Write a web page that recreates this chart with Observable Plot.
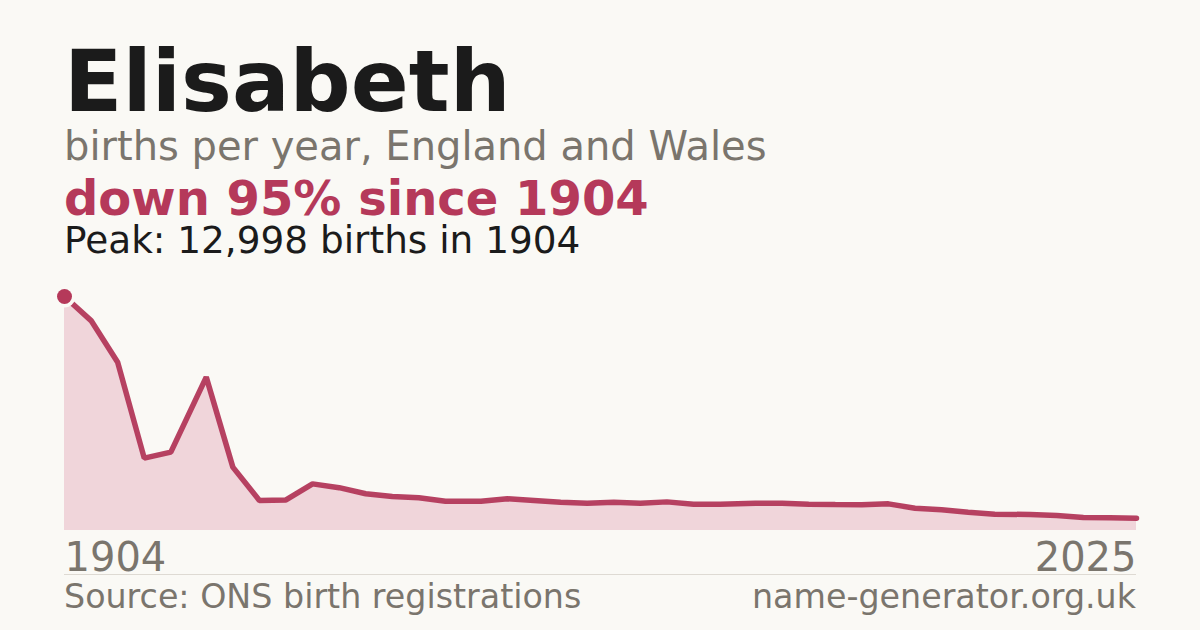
<!DOCTYPE html>
<html>
<head>
<meta charset="utf-8">
<script src="https://cdn.jsdelivr.net/npm/d3@7"></script>
<script src="https://cdn.jsdelivr.net/npm/@observablehq/plot@0.6"></script>
<style>
  html, body { margin: 0; padding: 0; background: #faf9f5; }
  body { width: 1200px; height: 630px; position: relative; overflow: hidden; font-family: "DejaVu Sans", sans-serif; }
  .t { position: absolute; white-space: nowrap; line-height: 0.9; }
  #chart { position: absolute; left: 0; top: 280px; }
  #rule { position: absolute; left: 64px; top: 574px; width: 1072px; height: 1px; background: #dedad3; }
</style>
</head>
<body>
<div id="chart"></div>
<div id="rule"></div>
<script>
const nameLabel = "Elisabeth";
const subtitle = "births per year, England and Wales";
const changeLabel = "down 95% since 1904";
const peakLabel = "Peak: 12,998 births in 1904";
const sourceLabel = "Source: ONS birth registrations";
const siteLabel = "name-generator.org.uk";

const years = [1904, 1907, 1910, 1913, 1916, 1920, 1923, 1926, 1929, 1932,
               1935, 1938, 1941, 1944, 1947, 1951, 1954, 1957, 1960, 1963,
               1966, 1969, 1972, 1975, 1978, 1982, 1985, 1988, 1991, 1994,
               1997, 2000, 2003, 2006, 2009, 2013, 2016, 2019, 2022, 2025];
const births = [12998, 11660, 9350, 4020, 4350, 8520, 3520, 1670, 1700, 2590,
                2380, 2040, 1890, 1820, 1630, 1630, 1760, 1670, 1570, 1520,
                1570, 1520, 1590, 1460, 1460, 1520, 1520, 1460, 1440, 1430,
                1480, 1240, 1150, 1020, 905, 890, 835, 720, 705, 683];
const axisYears = [1904, 2025];
const peakYear = 1904;
const peakBirths = 12998;

const data = years.map((y, i) => ({year: y, births: births[i]}));
const peak = [{year: peakYear, births: peakBirths}];

function addText(str, x, baseline, size, weight, color, anchor) {
  const d = document.createElement("div");
  d.className = "t";
  d.textContent = str;
  d.style.fontSize = size + "px";
  d.style.fontWeight = weight;
  d.style.color = color;
  d.style.top = (baseline - 0.796 * size) + "px";
  if (anchor === "end") d.style.right = (1200 - x) + "px";
  else d.style.left = x + "px";
  document.body.appendChild(d);
}

addText(nameLabel, 64, 112.5, 85.5, "bold", "#1b1b1b");
addText(subtitle, 64, 159.5, 40, "normal", "#7a756d");
addText(changeLabel, 64, 215, 48, "bold", "#b5395a");
addText(peakLabel, 64, 253.5, 37.4, "normal", "#1b1b1b");
addText(sourceLabel, 64, 609, 33.3, "normal", "#7a756d");
addText(siteLabel, 1136, 609, 33.3, "normal", "#7a756d", "end");

const bg = "#faf9f5";
const red = "#b5395a";

const chart = Plot.plot({
  width: 1200,
  height: 300,
  marginLeft: 64,
  marginRight: 64,
  marginTop: 16,
  marginBottom: 50,
  style: {background: "transparent", fontFamily: "DejaVu Sans", overflow: "visible"},
  x: {domain: [1904, 2025], label: null},
  y: {domain: [0, 12998], axis: null},
  marks: [
    Plot.areaY(data, {x: "year", y: "births", fill: "#f0d5da"}),
    Plot.lineY(data, {x: "year", y: "births", stroke: "#b2385a", strokeWidth: 5.5, strokeOpacity: 0.95, strokeLinejoin: "miter"}),
    Plot.dot(peak, {x: "year", y: "births", r: 11, fill: bg, stroke: null}),
    Plot.dot(peak, {x: "year", y: "births", r: 7.5, fill: red, stroke: null}),
    Plot.axisX([axisYears[0]], {tickSize: 0, tickPadding: 12, textAnchor: "start", fontSize: 40, fill: "#7a756d", tickFormat: d => String(d), label: null}),
    Plot.axisX([axisYears[1]], {tickSize: 0, tickPadding: 12, textAnchor: "end", fontSize: 40, fill: "#7a756d", tickFormat: d => String(d), label: null})
  ]
});
document.getElementById("chart").appendChild(chart);
</script>
</body>
</html>
